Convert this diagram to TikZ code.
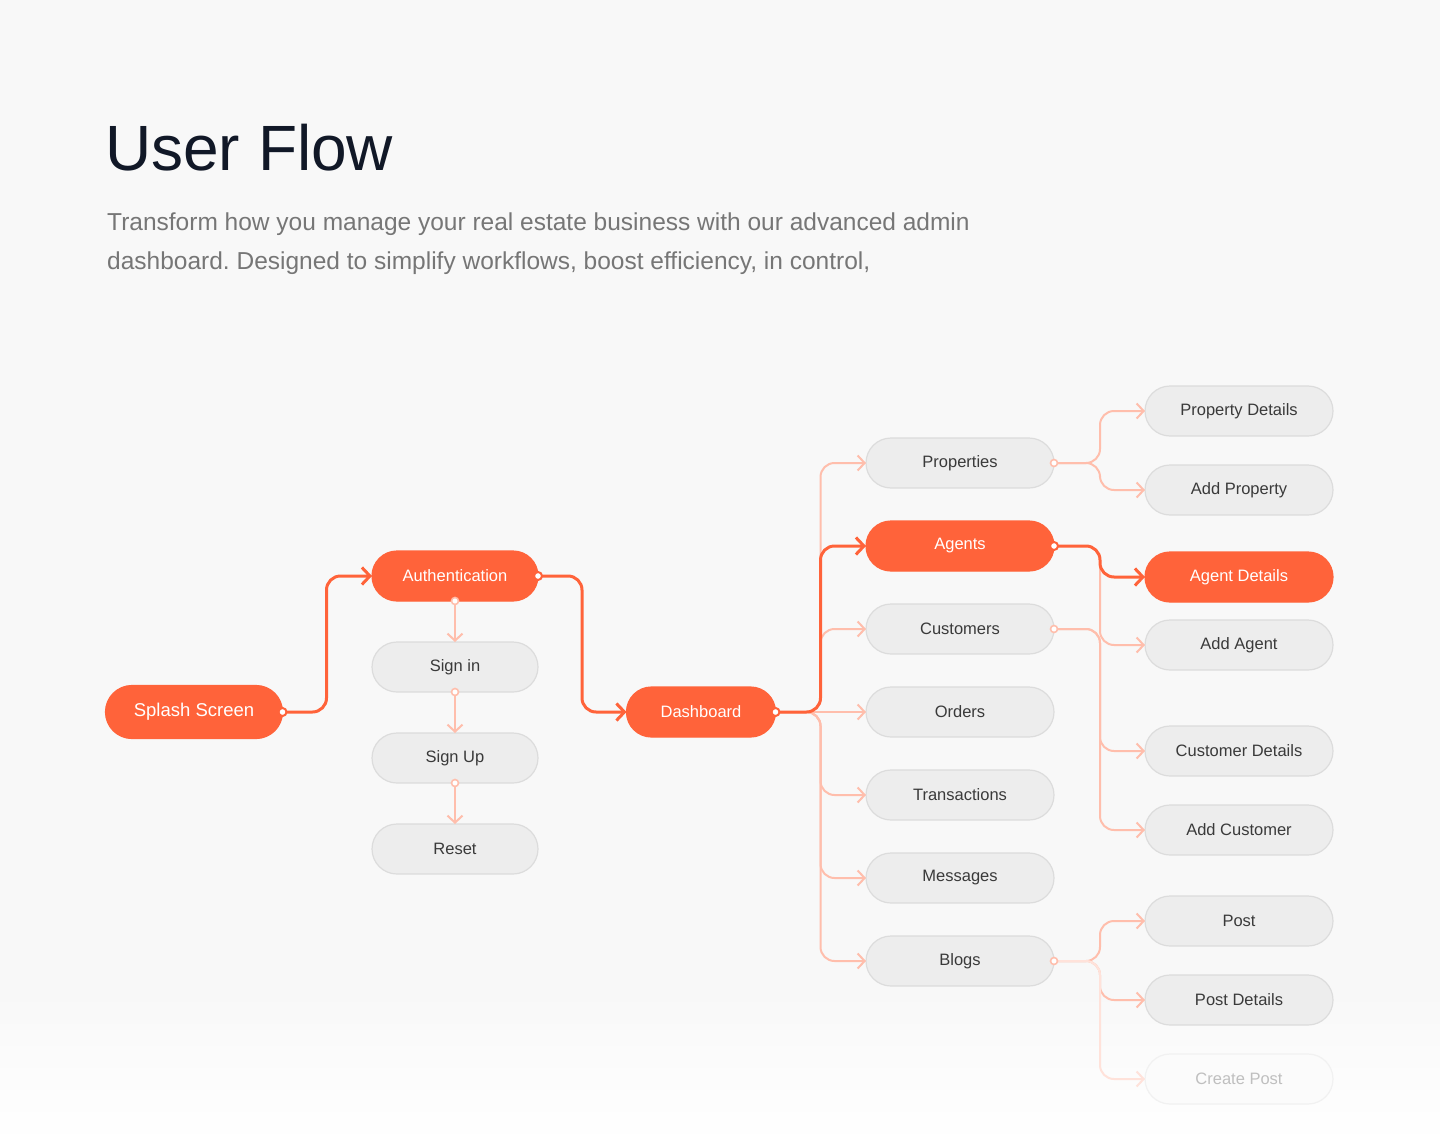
\documentclass[tikz,border=0pt]{standalone}
\usepackage{fontspec}
\setmainfont{Liberation Sans}
\frenchspacing
\usetikzlibrary{arrows.meta,positioning,shapes.misc}

\definecolor{flame}{RGB}{255,99,58}
\definecolor{blush}{RGB}{255,190,172}
\definecolor{pale}{RGB}{237,237,237}
\definecolor{rim}{RGB}{220,220,220}
\definecolor{ink}{RGB}{17,24,39}
\definecolor{slate}{RGB}{118,118,118}
\definecolor{label}{RGB}{58,58,58}
\definecolor{paper}{RGB}{248,248,248}

\begin{document}
\begin{tikzpicture}[x=1pt,y=-1pt,
  screen/.style={rounded rectangle, draw=rim, line width=1.2pt, fill=pale, text=label, minimum width=166pt, minimum height=50pt, inner sep=0pt, outer sep=0pt, font=\fontsize{16.5}{18}\selectfont},
  wide/.style={screen, minimum width=188pt},
  hot/.style={fill=flame, draw=flame, text=white},
  faded/.style={fill=paper!60!white, draw=rim!40!white, text=black!25},
  flow/.style={draw=flame, line width=3pt, rounded corners=14pt, -{Straight Barb[length=8pt,width=17pt]}},
  link/.style={draw=blush, line width=2pt, rounded corners=14pt, -{Straight Barb[length=7pt,width=15pt]}},
  hotdot/.style={draw=flame, fill=white, line width=2pt},
  dot/.style={draw=blush, fill=white, line width=1.6pt},
]
% page
\fill[paper] (0,0) rectangle (1440,1145);
\shade[top color=paper, bottom color=white] (0,990) rectangle (1440,1145);
\useasboundingbox (0,0) rectangle (1440,1145);

% heading
\node[anchor=base west, inner sep=0pt, text=ink, font=\fontsize{64}{70}\selectfont] (title) at (105,170) {User Flow};
\node[anchor=base west, inner sep=0pt, text=slate, font=\fontsize{24.5}{30}\selectfont] (sub1) at (107,230) {Transform how you manage your real estate business with our advanced admin};
\node[anchor=base west, inner sep=0pt, text=slate, font=\fontsize{24.5}{30}\selectfont] (sub2) at (107,269) {dashboard. Designed to simplify workflows, boost efficiency, in control,};

% entry and authentication
\node[screen, hot, minimum width=177pt, minimum height=53pt, font=\fontsize{18.5}{20}\selectfont] (splash) at (194,712) {Splash Screen};
\node[screen, hot] (auth) at (455,576) {Authentication};
\node[screen, below=41pt of auth] (signin) {Sign in};
\node[screen, below=41pt of signin] (signup) {Sign Up};
\node[screen, below=41pt of signup] (reset) {Reset};
\node[screen, hot, minimum width=149pt] (dash) at (701,712) {Dashboard};

% dashboard sections
\node[wide] (props) at (960,463) {Properties};
\node[wide, hot, below=33pt of props] (agents) {Agents};
\node[wide, below=33pt of agents] (cust) {Customers};
\node[wide, below=33pt of cust] (orders) {Orders};
\node[wide, below=33pt of orders] (trans) {Transactions};
\node[wide, below=33pt of trans] (msgs) {Messages};
\node[wide, below=33pt of msgs] (blogs) {Blogs};

% detail screens
\node[wide] (propdet) at (1239,411) {Property Details};
\node[wide] (addprop) at (1239,490) {Add Property};
\node[wide, hot] (agentdet) at (1239,577) {Agent Details};
\node[wide] (addagent) at (1239,645) {Add Agent};
\node[wide] (custdet) at (1239,751) {Customer Details};
\node[wide] (addcust) at (1239,830) {Add Customer};
\node[wide] (post) at (1239,921) {Post};
\node[wide] (postdet) at (1239,1000) {Post Details};
\node[wide, faded] (newpost) at (1239,1079) {Create Post};

% side links
\draw[link] (auth.south) -- (signin.north);
\draw[link] (signin.south) -- (signup.north);
\draw[link] (signup.south) -- (reset.north);
\draw[link] (dash.east) -- (orders.west);
\foreach \n in {props,cust,trans,msgs,blogs}
  \draw[link] (dash.east) -- ++(45,0) |- (\n.west);
\foreach \n in {propdet,addprop}
  \draw[link] (props.east) -- ++(46,0) |- (\n.west);
\draw[link] (agents.east) -- ++(46,0) |- (addagent.west);
\foreach \n in {custdet,addcust}
  \draw[link] (cust.east) -- ++(46,0) |- (\n.west);
\foreach \n in {post,postdet}
  \draw[link] (blogs.east) -- ++(46,0) |- (\n.west);
\draw[link, draw=blush!45] (blogs.east) -- ++(46,0) |- (newpost.west);

% main path
\draw[flow] (splash.east) -- ++(44,0) |- (auth.west);
\draw[flow] (auth.east) -- ++(44,0) |- (dash.west);
\draw[flow] (dash.east) -- ++(45,0) |- (agents.west);
\draw[flow] (agents.east) -- ++(46,0) |- (agentdet.west);

% connector dots
\foreach \p in {splash.east,auth.east,dash.east,agents.east}
  \draw[hotdot] (\p) circle (4pt);
\foreach \p in {auth.south,signin.south,signup.south,props.east,cust.east,blogs.east}
  \draw[dot] (\p) circle (3.5pt);
\end{tikzpicture}
\end{document}
